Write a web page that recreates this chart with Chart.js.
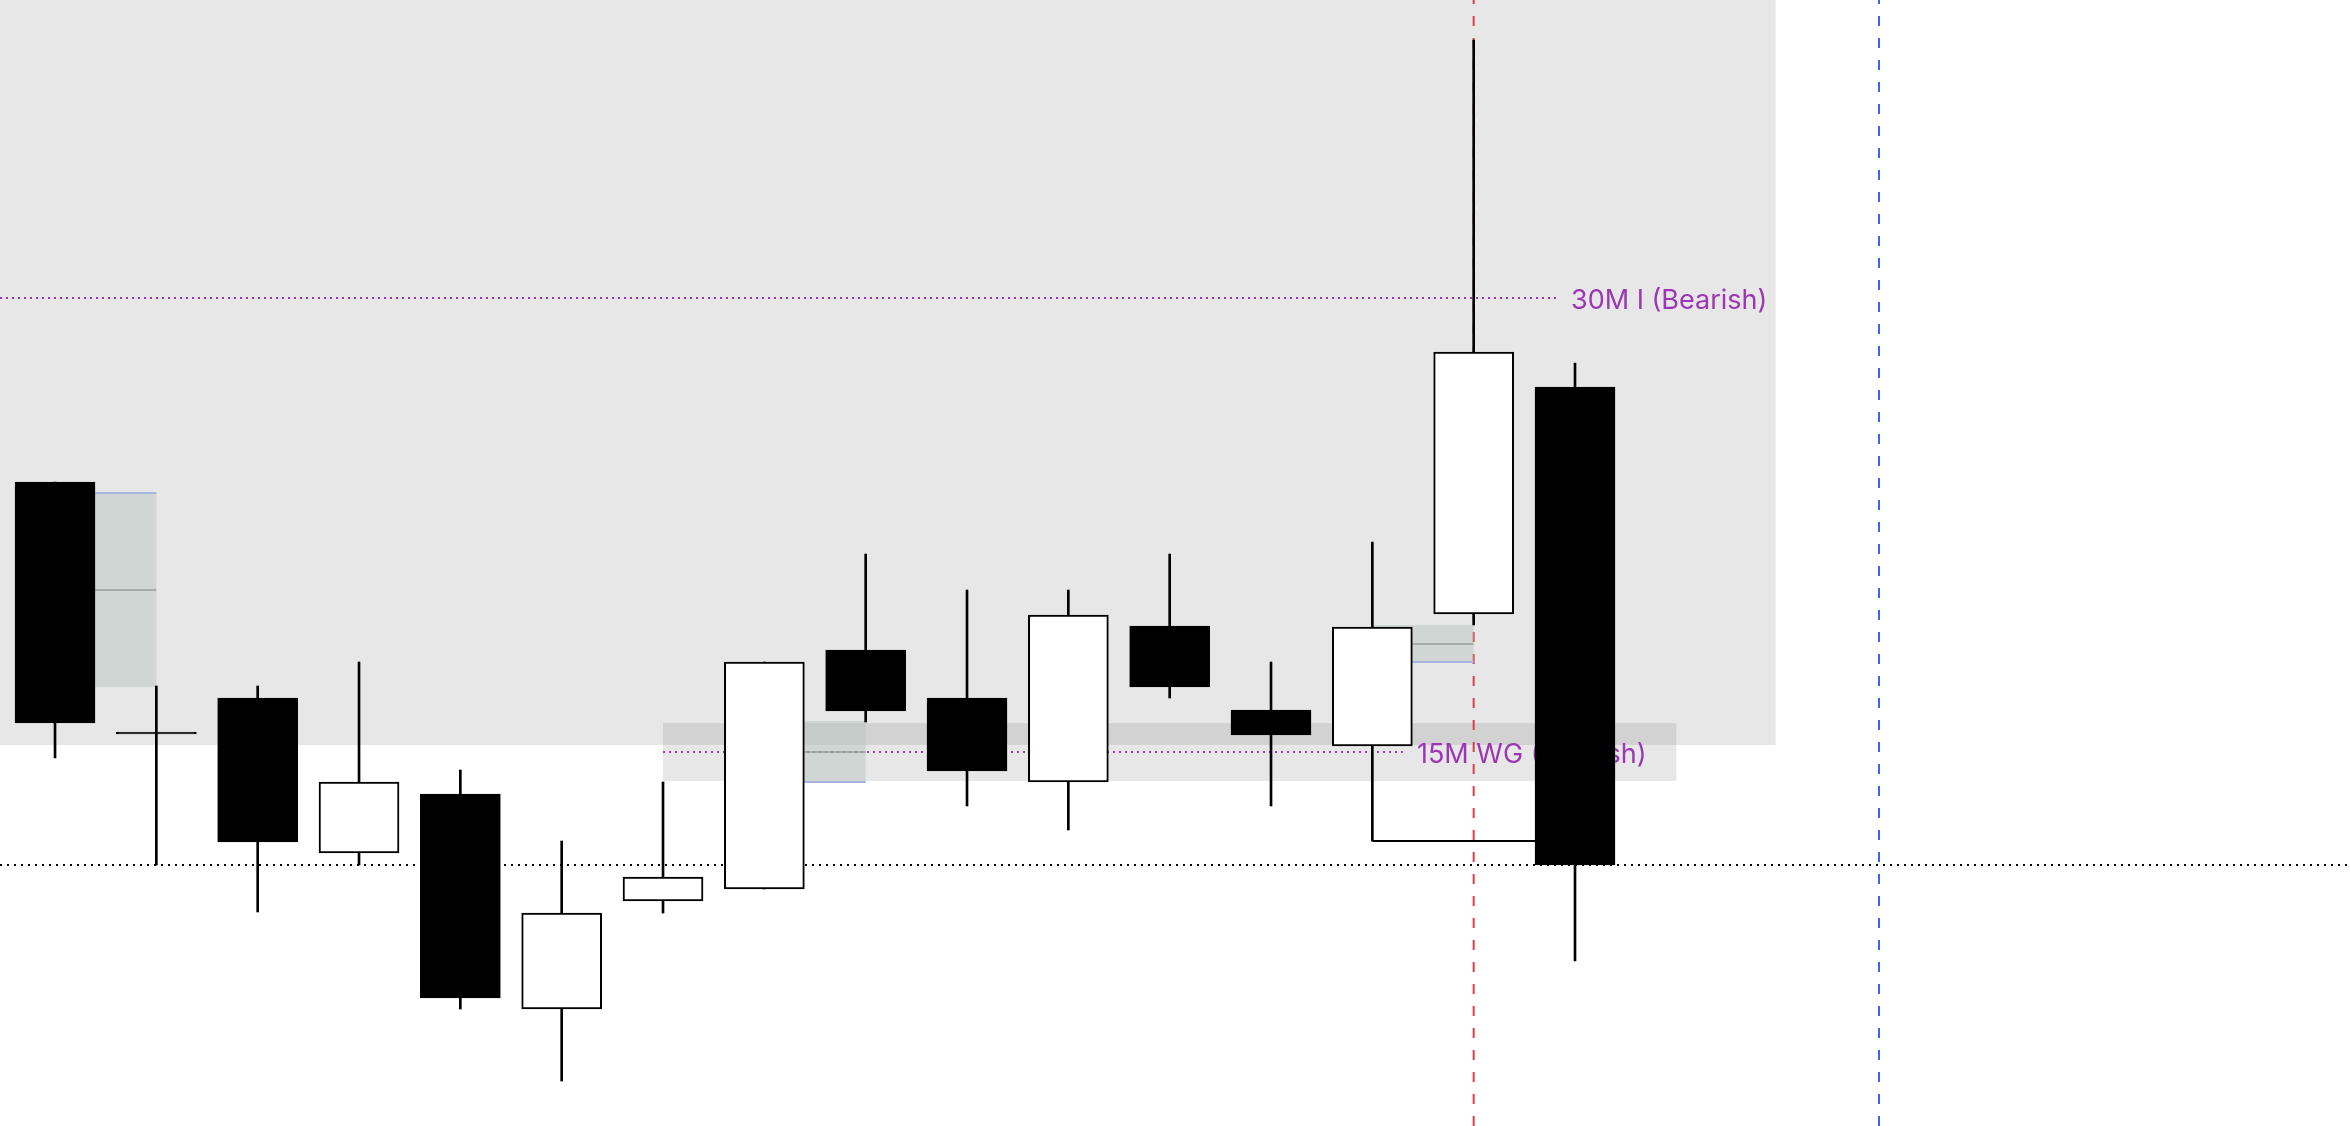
<!DOCTYPE html>
<html>
<head>
<meta charset="utf-8">
<script src="https://cdn.jsdelivr.net/npm/chart.js@4.4.0/dist/chart.umd.min.js"></script>
<style>
  html, body { margin: 0; padding: 0; background: #fff; }
  #wrap { width: 2350px; height: 1126px; }
</style>
</head>
<body>
<div id="wrap"><canvas id="candles"></canvas></div>
<script>
// candles (price units are arbitrary)
var opens  = [64.4, 39.2, 42.8, 27.3, 33.2, 11.7, 22.5, 23.7, 47.6, 42.8, 34.4, 50.0, 41.6, 38.0, 51.2, 73.9]
var highs  = [64.4, 44.0, 44.0, 46.4, 35.6, 28.5, 34.4, 46.4, 57.2, 53.6, 53.6, 57.2, 46.4, 58.4, 108.6, 76.3]
var lows   = [36.8, 26.1, 21.4, 26.1, 11.7, 4.5, 21.3, 23.7, 40.4, 32.0, 29.6, 42.8, 32.0, 28.5, 50.1, 16.5]
var closes = [40.3, 39.2, 28.4, 34.4, 12.8, 21.3, 24.9, 46.4, 41.5, 35.5, 51.1, 43.9, 39.1, 49.9, 77.4, 26.1]

// visible window
var xMin = -0.543, xMax = 22.648
var yMin = 0, yMax = 112.6

// shaded zones: [x0, x1, low, high]
var premiumZone = [xMin, 16.98, 38.1, yMax]
var wgZone = [6, 16, 34.5, 40.3]

// fair value gaps
var fvgX0 = [0, 7, 13]
var fvgX1 = [1, 8, 14]
var fvgLow = [43.9, 34.4, 46.4]
var fvgMid = [53.6, 37.4, 48.2]
var fvgHigh = [63.3, 40.5, 50.1]
var fvgEdge = ['high', 'low', 'low']

// levels and markers
var lowLevel = 26.1
var level30 = 82.8, level30End = 14.82, label30X = 14.96, label30 = '30M I (Bearish)'
var level15 = 37.4, level15Start = 6, level15End = 13.3, label15X = 13.44, label15 = '15M WG (Bearish)'
var sweepLow = 28.5, sweepFrom = 13, sweepTo = 14.606
var redMarker = 14, blueMarker = 18

var purple = '#9c36b5'

var idx = opens.map(function (o, i) { return i })
// bearish and doji candles filled black, bullish hollow
var bodyColors = opens.map(function (o, i) { return closes[i] <= o ? '#000000' : '#ffffff' })

function hline(label, x0, x1, v, color, dash, order) {
  return {
    type: 'line',
    label: label,
    data: [{ x: x0, y: v }, { x: x1, y: v }],
    borderColor: color,
    borderWidth: 2,
    borderDash: dash,
    pointRadius: 0,
    fill: false,
    order: order,
  }
}

function vline(label, x, color) {
  return {
    type: 'line',
    label: label,
    data: [{ x: x, y: yMin }, { x: x, y: yMax }],
    borderColor: color,
    borderWidth: 2,
    borderDash: [10, 12],
    pointRadius: 0,
    fill: false,
    order: 7,
  }
}

var overlays = {
  id: 'overlays',
  beforeDatasetsDraw: function (chart) {
    var ctx = chart.ctx
    var xs = chart.scales.x
    var ys = chart.scales.y
    var zones = [premiumZone, wgZone]
    ctx.save()
    ctx.fillStyle = 'rgba(0, 0, 0, 0.095)'
    zones.forEach(function (z) {
      var l = xs.getPixelForValue(z[0])
      var r = xs.getPixelForValue(z[1])
      var t = ys.getPixelForValue(z[3])
      var b = ys.getPixelForValue(z[2])
      ctx.fillRect(l, t, r - l, b - t)
    })
    ctx.restore()
  },
  beforeDatasetDraw: function (chart, args) {
    if (chart.data.datasets[args.index].label !== 'sweep') return
    var ctx = chart.ctx
    var xs = chart.scales.x
    var ys = chart.scales.y
    ctx.save()
    for (var i = 0; i < fvgX0.length; i++) {
      var l = xs.getPixelForValue(fvgX0[i])
      var r = xs.getPixelForValue(fvgX1[i])
      var t = ys.getPixelForValue(fvgHigh[i])
      var b = ys.getPixelForValue(fvgLow[i])
      ctx.fillStyle = 'rgba(180, 192, 186, 0.45)'
      ctx.fillRect(l, t, r - l, b - t)

      var m = ys.getPixelForValue(fvgMid[i])
      ctx.strokeStyle = '#979c99'
      ctx.lineWidth = 1.5
      ctx.beginPath()
      ctx.moveTo(l, m)
      ctx.lineTo(r, m)
      ctx.stroke()

      var e = fvgEdge[i] === 'high' ? t : b
      ctx.strokeStyle = '#a7b5dc'
      ctx.lineWidth = 2
      ctx.beginPath()
      ctx.moveTo(l, e)
      ctx.lineTo(r, e)
      ctx.stroke()
    }

    ctx.fillStyle = purple
    ctx.font = '27px Inter, "Noto Sans", sans-serif'
    ctx.textBaseline = 'alphabetic'
    ctx.fillText(label30, xs.getPixelForValue(label30X), ys.getPixelForValue(level30) + 11)
    ctx.fillText(label15, xs.getPixelForValue(label15X), ys.getPixelForValue(level15) + 11)
    ctx.restore()
  },
}

var ctx = document.getElementById('candles').getContext('2d')
var myChart = new Chart(ctx, {
  type: 'bar',
  data: {
    datasets: [
      {
        type: 'bar',
        label: 'bodies',
        data: idx.map(function (i) { return { x: i, y: [opens[i], closes[i]] } }),
        backgroundColor: bodyColors,
        borderColor: '#000000',
        borderWidth: 2,
        borderSkipped: false,
        barThickness: 80,
        minBarLength: 2,
        grouped: false,
        order: 1,
      },
      {
        type: 'bar',
        label: 'wicks',
        data: idx.map(function (i) { return { x: i, y: [lows[i], highs[i]] } }),
        backgroundColor: '#000000',
        borderWidth: 0,
        barThickness: 2,
        grouped: false,
        order: 2,
      },
      hline('sweep', sweepFrom, sweepTo, sweepLow, '#000000', [], 3),
      hline('low', xMin, xMax, lowLevel, '#000000', [2, 5], 6),
      hline('30M I', xMin, level30End, level30, purple, [2, 4], 6),
      hline('15M WG', level15Start, level15End, level15, purple, [2, 4], 6),
      vline('red marker', redMarker, '#d7404c'),
      vline('blue marker', blueMarker, '#3d62f5'),
    ],
  },
  options: {
    responsive: true,
    maintainAspectRatio: false,
    animation: false,
    layout: { padding: 0 },
    plugins: {
      legend: { display: false },
      tooltip: { enabled: false },
    },
    scales: {
      x: { type: 'linear', min: xMin, max: xMax, offset: false, display: false },
      y: { type: 'linear', min: yMin, max: yMax, display: false },
    },
  },
  plugins: [overlays],
})
</script>
</body>
</html>
